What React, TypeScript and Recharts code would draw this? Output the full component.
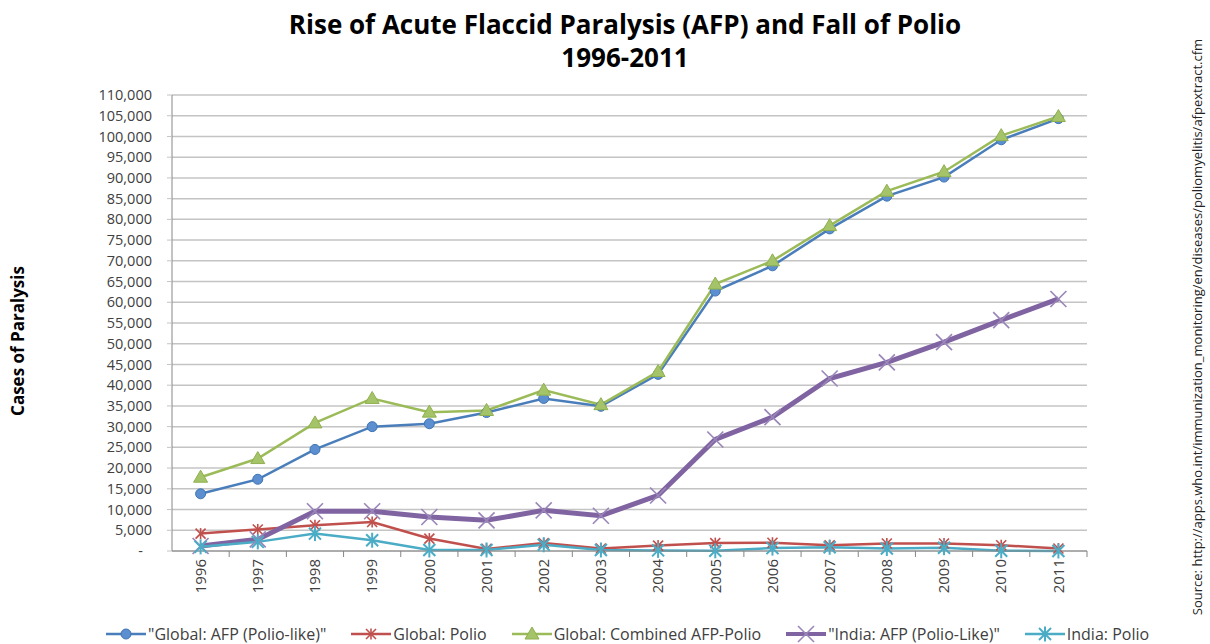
import { LineChart, Line, XAxis, YAxis, CartesianGrid, Legend } from 'recharts';

const years = ['1996', '1997', '1998', '1999', '2000', '2001', '2002', '2003', '2004', '2005', '2006', '2007', '2008', '2009', '2010', '2011'];
const globalAfp = [13800, 17300, 24500, 30000, 30700, 33400, 36800, 34900, 42600, 62700, 68800, 77700, 85600, 90200, 99200, 104300];
const globalPolio = [4200, 5200, 6200, 7000, 3000, 500, 1900, 600, 1300, 1900, 2000, 1400, 1800, 1800, 1400, 600];
const globalCombined = [17800, 22300, 30900, 36800, 33500, 33900, 38800, 35300, 43300, 64400, 70000, 78500, 86800, 91500, 100200, 104800];
const indiaAfp = [1200, 2800, 9600, 9600, 8200, 7400, 9800, 8500, 13400, 26900, 32300, 41600, 45500, 50400, 55700, 60800];
const indiaPolio = [1000, 2200, 4200, 2600, 250, 250, 1500, 250, 150, 50, 700, 900, 600, 800, 50, 0];
const yTicks = [0, 5000, 10000, 15000, 20000, 25000, 30000, 35000, 40000, 45000, 50000, 55000, 60000, 65000, 70000, 75000, 80000, 85000, 90000, 95000, 100000, 105000, 110000];

const seriesNames: Record<string, string> = {
  globalAfp: '"Global: AFP (Polio-like)"',
  globalPolio: 'Global: Polio',
  globalCombined: 'Global: Combined AFP-Polio',
  indiaAfp: '"India: AFP (Polio-Like)"',
  indiaPolio: 'India: Polio',
};

const data = years.map((year, i) => ({
  year,
  globalAfp: globalAfp[i],
  globalPolio: globalPolio[i],
  globalCombined: globalCombined[i],
  indiaAfp: indiaAfp[i],
  indiaPolio: indiaPolio[i],
}));

const FONT = '"Open Sans", "Noto Sans", sans-serif';
const W = 1210;
const H = 644;
const margin = { top: 95, right: 123, bottom: 0, left: 12 };
const Y_AXIS_W = 160;
const band = (W - margin.left - margin.right - Y_AXIS_W) / years.length;

type Kind = 'circle' | 'star' | 'triangle' | 'cross' | 'asterisk';

const series = [
  { key: 'globalAfp', color: '#4a7ebb', width: 2.5, kind: 'circle' as Kind },
  { key: 'globalPolio', color: '#c0504d', width: 2.5, kind: 'star' as Kind },
  { key: 'globalCombined', color: '#9bbb59', width: 2.5, kind: 'triangle' as Kind },
  { key: 'indiaAfp', color: '#8064a2', width: 5, kind: 'cross' as Kind },
  { key: 'indiaPolio', color: '#4bacc6', width: 2.5, kind: 'asterisk' as Kind },
];

function marker(kind: Kind, cx: number, cy: number, color: string) {
  switch (kind) {
    case 'circle':
      return <circle cx={cx} cy={cy} r={5} fill="#5b8fcf" stroke="#3f74b5" strokeWidth={1} />;
    case 'triangle':
      return (
        <polygon
          points={`${cx},${cy - 7} ${cx + 7},${cy + 5} ${cx - 7},${cy + 5}`}
          fill="#a5c46a"
          stroke="#8fb04e"
          strokeWidth={1}
        />
      );
    case 'star':
      return (
        <g stroke={color} strokeWidth={1.6}>
          <line x1={cx - 5} y1={cy - 5} x2={cx + 5} y2={cy + 5} />
          <line x1={cx - 5} y1={cy + 5} x2={cx + 5} y2={cy - 5} />
          <line x1={cx} y1={cy - 5.5} x2={cx} y2={cy + 5.5} />
        </g>
      );
    case 'cross':
      return (
        <g stroke="#9a86b8" strokeWidth={1.6}>
          <line x1={cx - 8} y1={cy - 8} x2={cx + 8} y2={cy + 8} />
          <line x1={cx - 8} y1={cy + 8} x2={cx + 8} y2={cy - 8} />
        </g>
      );
    default:
      return (
        <g stroke={color} strokeWidth={2}>
          <line x1={cx - 6} y1={cy - 6} x2={cx + 6} y2={cy + 6} />
          <line x1={cx - 6} y1={cy + 6} x2={cx + 6} y2={cy - 6} />
          <line x1={cx} y1={cy - 7.5} x2={cx} y2={cy + 7.5} />
        </g>
      );
  }
}

const makeDot = (key: string, kind: Kind, color: string) => (props: any) => {
  const { cx, cy, index } = props;
  if (cx == null || cy == null) return <g key={`${key}-${index}`} />;
  return <g key={`${key}-${index}`}>{marker(kind, cx, cy, color)}</g>;
};

function YTick(props: any) {
  const { x, y, payload } = props;
  const v = payload.value as number;
  return (
    <text x={v === 0 ? x - 9 : x} y={y} dy="0.35em" textAnchor="end" fill="#404040" fontSize={14.5} fontFamily={FONT}>
      {v === 0 ? '-' : v.toLocaleString('en-US')}
    </text>
  );
}

function XTick(props: any) {
  const { x, y, payload } = props;
  const axisY = y - 8;
  return (
    <g>
      <line x1={x + band / 2} y1={axisY} x2={x + band / 2} y2={axisY + 6} stroke="#868686" strokeWidth={1} />
      <text x={x} y={y} dy="0.35em" textAnchor="end" transform={`rotate(-90 ${x} ${y})`} fill="#404040" fontSize={15} fontFamily={FONT}>
        {payload.value}
      </text>
    </g>
  );
}

function LegendContent() {
  return (
    <div style={{ height: 20, display: 'flex', justifyContent: 'flex-start', alignItems: 'center', gap: 23, paddingLeft: 104, fontFamily: FONT, fontSize: 16, color: '#404040', whiteSpace: 'nowrap' }}>
      {series.map((s) => (
        <div key={s.key} style={{ display: 'flex', alignItems: 'center' }}>
          <svg width={44} height={18}>
            <line x1={2} y1={9} x2={42} y2={9} stroke={s.color} strokeWidth={s.key === 'indiaAfp' ? 4 : 2.5} />
            {marker(s.kind, 22, 9, s.color)}
          </svg>
          <span>{seriesNames[s.key]}</span>
        </div>
      ))}
    </div>
  );
}

export default function App() {
  return (
    <div style={{ position: 'absolute', left: 0, top: 0, width: W, height: H, background: '#fff', overflow: 'hidden' }}>
      <LineChart width={W} height={H} data={data} margin={margin}>
        <text x={625} y={34} textAnchor="middle" fontFamily={FONT} fontWeight={700} fontSize={26} fill="#000">
          Rise of Acute Flaccid Paralysis (AFP) and Fall of Polio
        </text>
        <text x={625} y={67} textAnchor="middle" fontFamily={FONT} fontWeight={700} fontSize={26} fill="#000">
          1996-2011
        </text>
        <text x={18} y={341} textAnchor="middle" dy="0.35em" transform="rotate(-90 18 341)" fontFamily={FONT} fontWeight={700} fontSize={17} fill="#000">
          Cases of Paralysis
        </text>
        <text x={1197} y={327} textAnchor="middle" dy="0.35em" transform="rotate(-90 1197 327)" fontFamily={FONT} fontSize={13} fill="#222">
          Source: http://apps.who.int/immunization_monitoring/en/diseases/poliomyelitis/afpextract.cfm
        </text>
        <CartesianGrid vertical={false} stroke="#c4c4c4" strokeWidth={1.5} />
        <XAxis
          dataKey="year"
          height={73}
          interval={0}
          padding={{ left: band / 2, right: band / 2 }}
          axisLine={{ stroke: '#868686' }}
          tickLine={false}
          tickSize={6}
          tickMargin={2}
          tick={<XTick />}
        />
        <YAxis
          width={Y_AXIS_W}
          domain={[0, 110000]}
          ticks={yTicks}
          interval={0}
          axisLine={{ stroke: '#868686' }}
          tickLine={{ stroke: '#c4c4c4' }}
          tickSize={5}
          tickMargin={15}
          tick={<YTick />}
        />
        <Legend verticalAlign="bottom" content={<LegendContent />} wrapperStyle={{ left: 0, width: W }} />
        {series.map((s) => (
          <Line
            key={s.key}
            dataKey={s.key}
            name={seriesNames[s.key]}
            stroke={s.color}
            strokeWidth={s.width}
            dot={makeDot(s.key, s.kind, s.color)}
            activeDot={false}
            isAnimationActive={false}
          />
        ))}
      </LineChart>
    </div>
  );
}
